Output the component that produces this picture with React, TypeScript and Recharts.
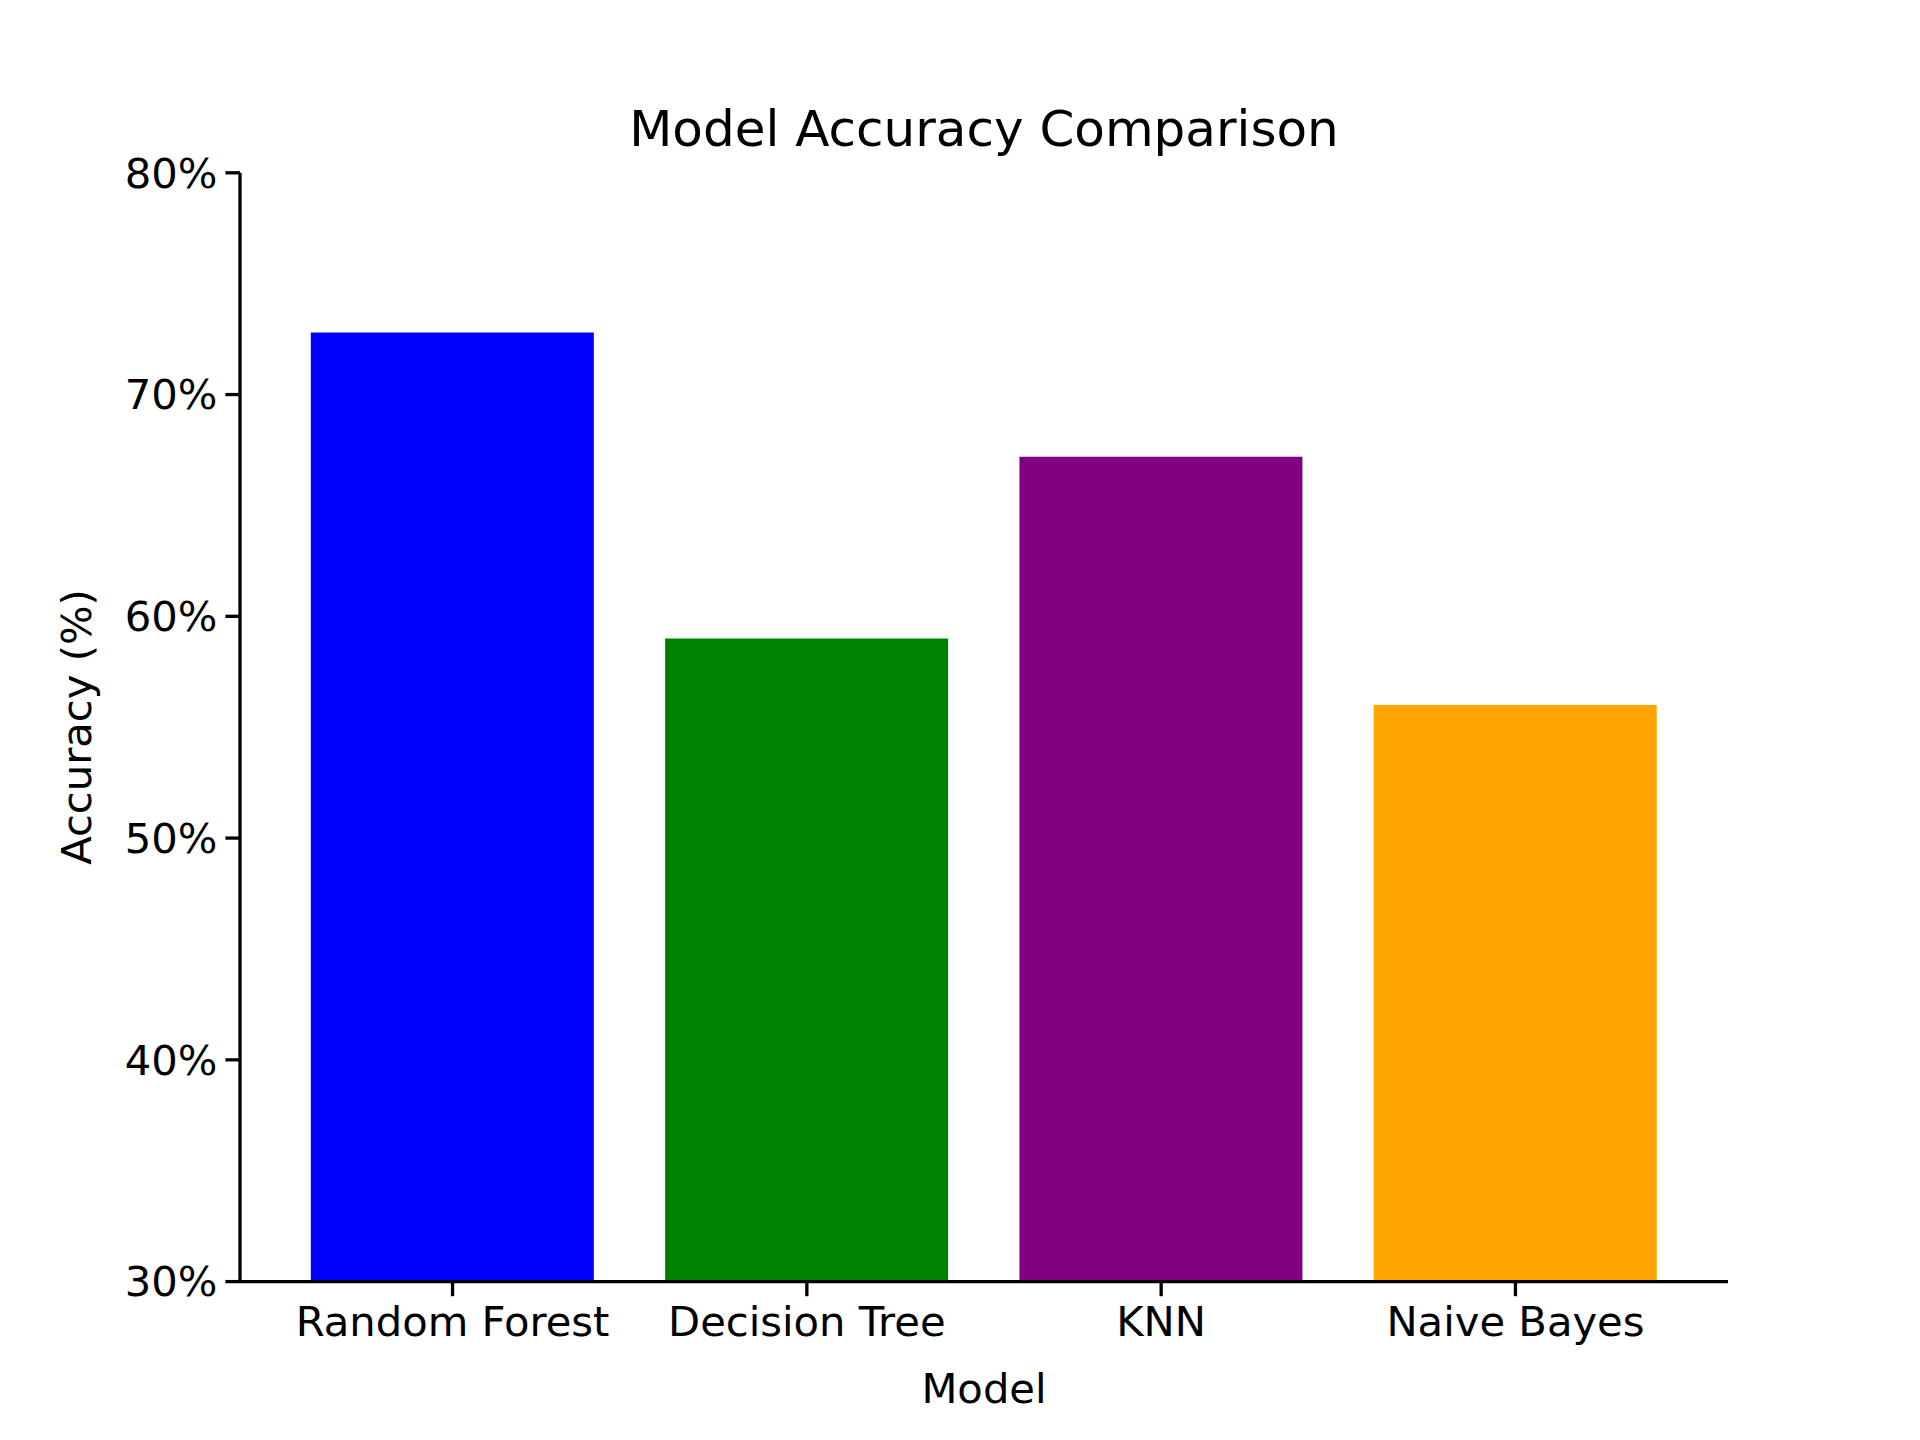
import { BarChart, Bar, XAxis, YAxis, Cell } from 'recharts'

const models = ['Random Forest', 'Decision Tree', 'KNN', 'Naive Bayes']
const accuracy = [72.8, 59.0, 67.2, 56.0]
const barColors = ['#0000ff', '#008000', '#800080', '#ffa500']
const yTicks = [30, 40, 50, 60, 70, 80]

const data = models.map((m, i) => ({ model: m, acc: accuracy[i] }))

const font = "'DejaVu Sans', sans-serif"
const tickStyle = { fill: '#000', fontSize: 41.7, fontFamily: font }

export default function App() {
  return (
    <div style={{ margin: -8, width: 1920, height: 1440, background: '#fff', position: 'relative' }}>
      <BarChart
        width={1920}
        height={1440}
        data={data}
        margin={{ top: 172.8, right: 192, left: 0, bottom: 0 }}
        barCategoryGap="10%"
      >
        <text x={984} y={132} textAnchor="middle" dominantBaseline="middle" fontSize={50} fontFamily={font}>
          Model Accuracy Comparison
        </text>
        <text
          x={80}
          y={727}
          textAnchor="middle"
          dominantBaseline="middle"
          fontSize={41.7}
          fontFamily={font}
          transform="rotate(-90 80 727)"
        >
          Accuracy (%)
        </text>
        <text x={984} y={1392} textAnchor="middle" dominantBaseline="middle" fontSize={41.7} fontFamily={font}>
          Model
        </text>
        <XAxis
          dataKey="model"
          height={158.4}
          padding={{ left: 35.4, right: 35.4 }}
          stroke="#000"
          strokeWidth={3.3}
          tickSize={14.6}
          tickMargin={10}
          tick={tickStyle}
          tickLine={{ stroke: '#000', strokeWidth: 3.3 }}
          interval={0}
        />
        <XAxis xAxisId="top" orientation="top" dataKey="model" height={0} tick={false} tickLine={false} stroke="#000" strokeWidth={3.3} />
        <YAxis
          width={240}
          domain={[30, 80]}
          ticks={yTicks}
          allowDataOverflow
          tickFormatter={(v) => `${v}%`}
          stroke="#000"
          strokeWidth={3.3}
          tickSize={14.6}
          tickMargin={8}
          tick={tickStyle}
          tickLine={{ stroke: '#000', strokeWidth: 3.3 }}
        />
        <YAxis yAxisId="right" orientation="right" width={0} domain={[30, 80]} tick={false} tickLine={false} stroke="#000" strokeWidth={3.3} />
        <Bar dataKey="acc" isAnimationActive={false}>
          {data.map((d, i) => (
            <Cell key={d.model} fill={barColors[i]} />
          ))}
        </Bar>
      </BarChart>
    </div>
  )
}
